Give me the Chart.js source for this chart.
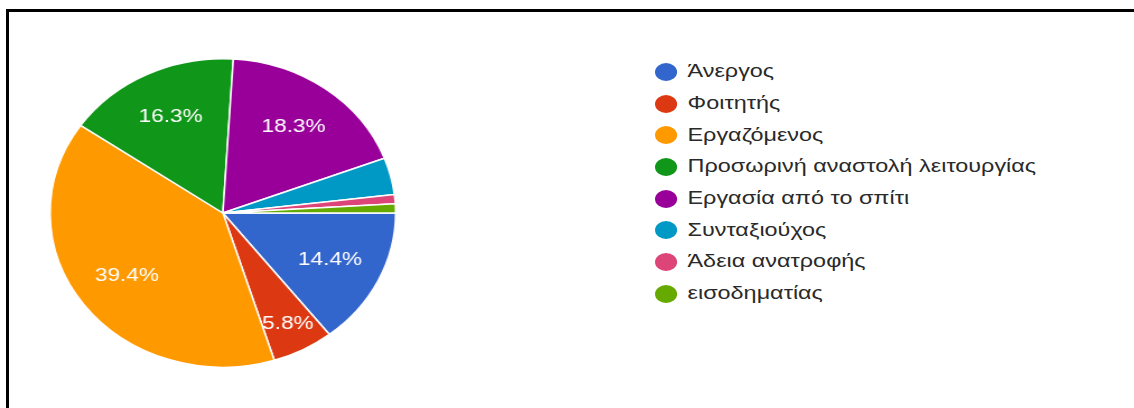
<!DOCTYPE html>
<html>
<head>
<meta charset="utf-8">
<script src="https://cdn.jsdelivr.net/npm/chart.js@4.4.1/dist/chart.umd.min.js"></script>
<style>
    html, body { margin: 0; padding: 0; background: #fff; overflow: hidden; }
    body { width: 1134px; height: 408px; position: relative; }
    #frame {
        position: absolute; left: 6px; top: 9px; width: 1400px; height: 600px;
        border-top: 3px solid #000; border-left: 3px solid #000;
    }
    #pieBox {
        position: absolute; left: 0; top: 0; width: 400px; height: 408px;
        transform: scaleX(1.12); transform-origin: 0 0;
    }
    #legend {
        position: absolute; left: 655px; top: 56px; margin: 0; padding: 0;
        list-style: none; font-family: "Liberation Sans", Arial, sans-serif;
        font-size: 18px; color: #2a2a2a;
        transform: scaleX(1.3); transform-origin: 0 0;
    }
    #legend li { height: 31.7px; display: flex; align-items: center; white-space: nowrap; }
    #legend .dot { width: 17px; height: 18px; border-radius: 50%; margin-right: 8px; flex: none; }
</style>
</head>
<body>
<div id="frame"></div>
<div id="pieBox"><canvas id="chart"></canvas></div>
<ul id="legend"></ul>
<script>
// answers (n = 104)
const categories = [
    "Άνεργος",
    "Φοιτητής",
    "Εργαζόμενος",
    "Προσωρινή αναστολή λειτουργίας",
    "Εργασία από το σπίτι",
    "Συνταξιούχος",
    "Άδεια ανατροφής",
    "εισοδηματίας"
];
const counts = [15, 6, 41, 17, 19, 4, 1, 1];
const colors = ["#3366cc", "#dc3912", "#ff9900", "#109618", "#990099", "#0099c6", "#dd4477", "#66aa00"];

// percent labels inside the slices (google forms style)
const sliceLabels = {
    id: 'sliceLabels',
    afterDatasetsDraw(chart) {
        const ctx = chart.ctx;
        const meta = chart.getDatasetMeta(0);
        const values = chart.data.datasets[0].data;
        const total = values.reduce((a, b) => a + b, 0);
        meta.data.forEach((arc, i) => {
            const pct = values[i] / total * 100;
            if (pct < 5) return;
            const { x, y, startAngle, endAngle, outerRadius } = arc.getProps(['x', 'y', 'startAngle', 'endAngle', 'outerRadius'], true);
            const mid = (startAngle + endAngle) / 2;
            const r = outerRadius * (pct < 10 ? 0.81 : 0.69);
            ctx.save();
            ctx.translate(x + Math.cos(mid) * r, y + Math.sin(mid) * r);
            ctx.scale(1.12, 1);
            ctx.fillStyle = '#fff';
            ctx.font = '18px "Liberation Sans", Arial, sans-serif';
            ctx.textAlign = 'center';
            ctx.textBaseline = 'middle';
            ctx.fillText(pct.toFixed(1) + '%', 0, 0);
            ctx.restore();
        });
    }
};

const htmlLegend = {
    id: 'htmlLegend',
    afterUpdate(chart) {
        const ul = document.getElementById('legend');
        ul.innerHTML = '';
        const items = chart.options.plugins.legend.labels.generateLabels(chart);
        items.forEach(item => {
            const li = document.createElement('li');
            const dot = document.createElement('span');
            dot.className = 'dot';
            dot.style.background = item.fillStyle;
            const txt = document.createElement('span');
            txt.textContent = item.text;
            li.appendChild(dot);
            li.appendChild(txt);
            ul.appendChild(li);
        });
    }
};

function displayChart() {
    const ctx = document.getElementById("chart");

    new Chart(ctx, {
        type: 'pie',
        data: {
            labels: categories,
            datasets: [{
                data: counts,
                backgroundColor: colors,
                borderColor: '#fff',
                borderWidth: 1.5
            }]
        },
        options: {
            responsive: true,
            maintainAspectRatio: false,
            animation: false,
            rotation: 90,
            layout: {
                padding: { left: 44, right: 46, top: 58, bottom: 40 }
            },
            plugins: {
                legend: { display: false },
                tooltip: { enabled: false }
            }
        },
        plugins: [sliceLabels, htmlLegend]
    });
}

displayChart();
</script>
</body>
</html>
